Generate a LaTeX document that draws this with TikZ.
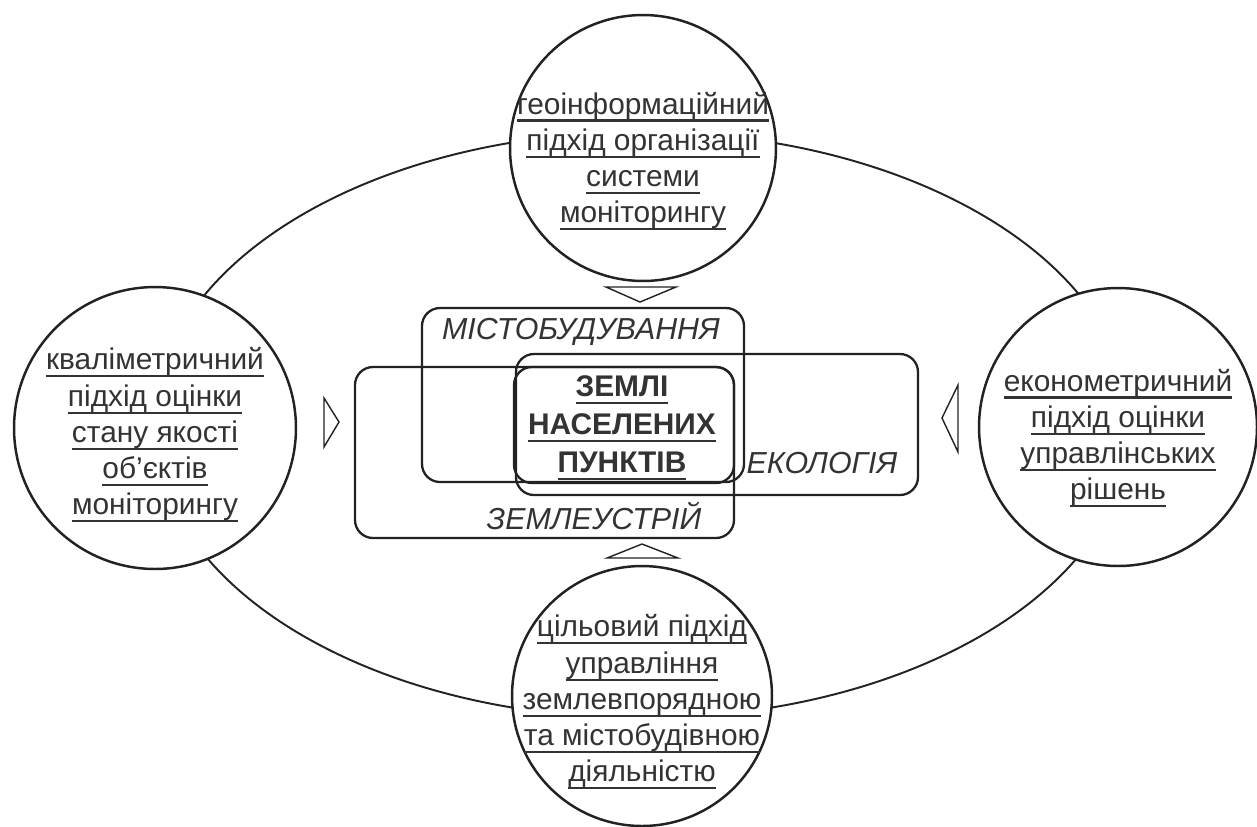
\documentclass[tikz,border=0pt]{standalone}
\usepackage{fontspec}
\setmainfont{Liberation Sans}
\usepackage{xcolor}
\usepackage{tikz}
\usetikzlibrary{positioning}
\definecolor{inkgray}{HTML}{222222}
\definecolor{textgray}{HTML}{333333}
\newsavebox\ulbox
\newcommand\undl[1]{\sbox\ulbox{#1}\rlap{\rule[-4.3pt]{\wd\ulbox}{1.2pt}}\usebox\ulbox}

\begin{document}
\begin{tikzpicture}[x=0.02cm,y=-0.02cm,
    ring/.style={draw=inkgray,circle,line width=1.4pt,fill=white,inner sep=0pt},
    ringtext/.style={align=center,text=textgray,font=\fontsize{17}{20.6}\selectfont},
    field/.style={draw=inkgray,line width=1.3pt,rounded corners=0.36cm},
    fieldname/.style={text=textgray,font=\fontsize{17.3}{20}\selectfont\itshape},
    corename/.style={align=center,text=textgray,font=\fontsize{17}{21.6}\selectfont\bfseries},
    hollow/.style={draw=inkgray,line width=0.8pt,fill=white,line join=miter}]
  \useasboundingbox[fill=white] (0,0) rectangle (1257,826);
  \draw[inkgray,line width=1.1pt] (642,425) ellipse [x radius=488,y radius=293];

  \node[ring,minimum size=5.32cm] (geo) at (643,148) {};
  \node[ring,minimum size=5.64cm] (kval) at (155,428) {};
  \node[ring,minimum size=5.56cm] (ekon) at (1118,427) {};
  \node[ring,minimum size=5.2cm] (cil) at (642,696) {};

  \node[ringtext] (geotext) at ([yshift=-0.26cm]geo) {\undl{геоінформаційний}\\ \undl{підхід організації}\\ \undl{системи}\\ \undl{моніторингу}};
  \node[ringtext] (kvaltext) at ([yshift=-0.14cm]kval) {\undl{кваліметричний}\\ \undl{підхід оцінки}\\ \undl{стану якості}\\ \undl{об'єктів}\\ \undl{моніторингу}};
  \node[ringtext] (ekontext) at ([yshift=-0.22cm]ekon) {\undl{економетричний}\\ \undl{підхід оцінки}\\ \undl{управлінських}\\ \undl{рішень}};
  \node[ringtext] (ciltext) at ([yshift=-0.12cm]cil) {\undl{цільовий підхід}\\ \undl{управління}\\ \undl{землевпорядною}\\ \undl{та містобудівною}\\ \undl{діяльністю}};

  \draw[field] (422,308) rectangle (744,482);
  \draw[field] (355,367) rectangle (734,538);
  \draw[field] (516,354) rectangle (918,495);
  \draw[field] (514,367) rectangle (734,483);

  \node[fieldname] (mist) at (581,332) {МІСТОБУДУВАННЯ};
  \node[fieldname] (ekol) at (822,463) {ЕКОЛОГІЯ};
  \node[fieldname] (zemu) at (594,516) {ЗЕМЛЕУСТРІЙ};
  \node[corename] (core) at (622,428) {\undl{ЗЕМЛІ}\\ \undl{НАСЕЛЕНИХ}\\ \undl{ПУНКТІВ}};

  \draw[hollow] (606,287) -- (676,287) -- (640,302) -- cycle;
  \draw[hollow] (607,558) -- (678,558) -- (642,544) -- cycle;
  \draw[hollow] (324,398) -- (324,447) -- (339,422) -- cycle;
  \draw[hollow] (958,385) -- (958,452) -- (942,418) -- cycle;
\end{tikzpicture}
\end{document}
